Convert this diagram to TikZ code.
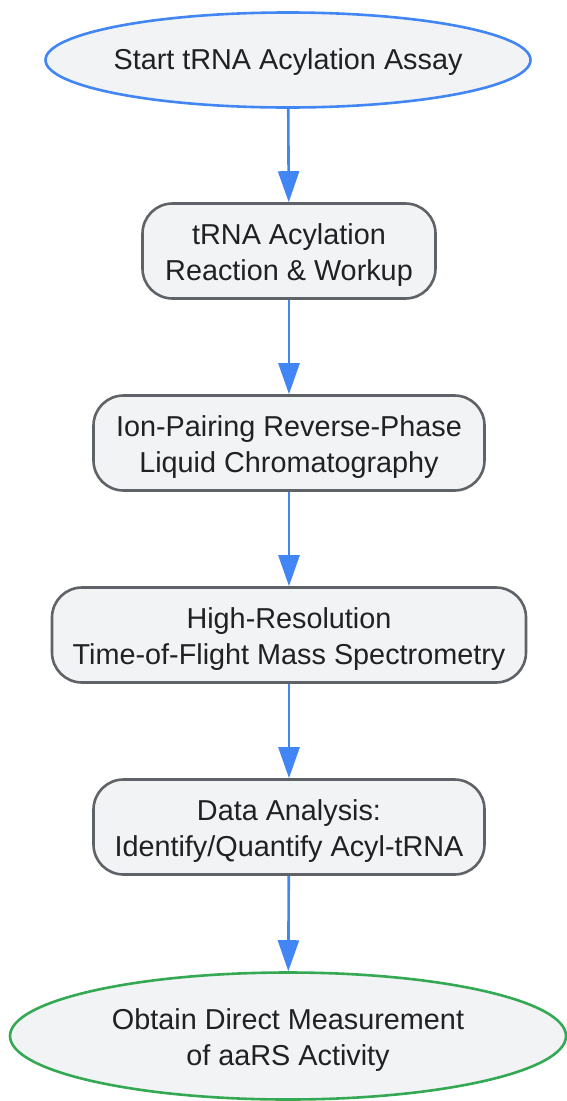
\documentclass[tikz,border=0pt]{standalone}
\usepackage{fontspec}
\setmainfont{Liberation Sans}
\usetikzlibrary{shapes.geometric,arrows.meta}
\definecolor{fillc}{HTML}{F1F3F4}
\definecolor{edgec}{HTML}{5F6368}
\definecolor{bluec}{HTML}{4285F4}
\definecolor{greenc}{HTML}{34A853}
\definecolor{textc}{HTML}{202124}
\tikzset{
  x=1pt,y=-1pt,
  base/.style={fill=fillc,inner sep=0pt,line width=2.6pt},
  txt/.style={text=textc,font=\fontsize{28.8}{36}\selectfont,align=center,inner sep=0pt,yshift=-3.6pt},
  stepbox/.style={base,draw=edgec,rounded corners=30pt,rectangle,minimum height=95pt},
  startnode/.style={base,draw=bluec,ellipse},
  endnode/.style={base,draw=greenc,ellipse},
  flow/.style={draw=bluec,line width=2.6pt,-{Triangle[length=31pt,width=21pt]}}
}
\begin{document}
\begin{tikzpicture}
\useasboundingbox (0,0) rectangle (566,1101);
\node[startnode,minimum width=485pt,minimum height=95pt,
  label={[txt,name=st,yshift=1.2pt]center:{Start tRNA Acylation Assay}}] (s) at (288,60) {};
\node[stepbox,minimum width=293pt,
  label={[txt,name=at]center:{tRNA Acylation\\Reaction \& Workup}}] (a) at (289,251) {};
\node[stepbox,minimum width=391pt,
  label={[txt,name=bt]center:{Ion-Pairing Reverse-Phase\\Liquid Chromatography}}] (b) at (289,443) {};
\node[stepbox,minimum width=474pt,
  label={[txt,name=ct]center:{High-Resolution\\Time-of-Flight Mass Spectrometry}}] (c) at (289,635) {};
\node[stepbox,minimum width=391pt,
  label={[txt,name=dt]center:{Data Analysis:\\Identify/Quantify Acyl-tRNA}}] (d) at (289,827) {};
\node[endnode,minimum width=556pt,minimum height=127pt,
  label={[txt,name=et]center:{Obtain Direct Measurement\\of aaRS Activity}}] (e) at (288,1036) {};
\draw[flow] (s) -- (a);
\draw[flow] (a) -- (b);
\draw[flow] (b) -- (c);
\draw[flow] (c) -- (d);
\draw[flow] (d) -- (e);
\end{tikzpicture}
\end{document}
